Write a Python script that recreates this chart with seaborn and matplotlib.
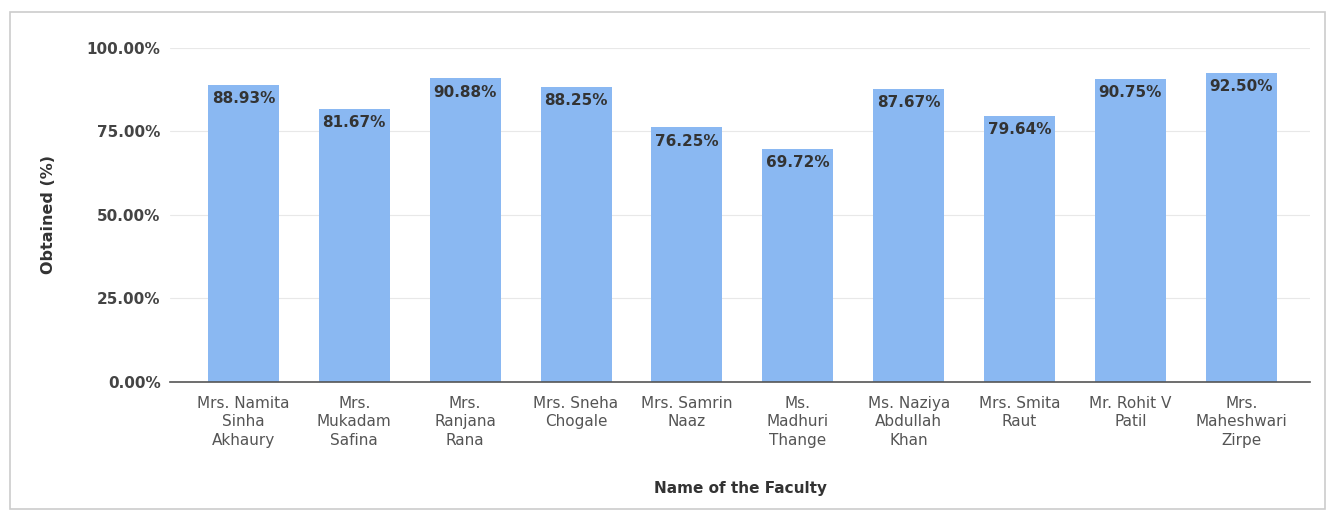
import matplotlib
matplotlib.use("Agg")
import matplotlib.pyplot as plt
import seaborn as sns
import pandas as pd
from matplotlib.ticker import FuncFormatter
from matplotlib.patches import Rectangle

faculty = ["Mrs. Namita\nSinha\nAkhaury", "Mrs.\nMukadam\nSafina", "Mrs.\nRanjana\nRana",
           "Mrs. Sneha\nChogale", "Mrs. Samrin\nNaaz", "Ms.\nMadhuri\nThange",
           "Ms. Naziya\nAbdullah\nKhan", "Mrs. Smita\nRaut", "Mr. Rohit V\nPatil",
           "Mrs.\nMaheshwari\nZirpe"]
obtained = [88.93, 81.67, 90.88, 88.25, 76.25, 69.72, 87.67, 79.64, 90.75, 92.50]
y_ticks = [0, 25, 50, 75, 100]

df = pd.DataFrame({"faculty": faculty, "obtained": obtained})

sns.set_theme(style="white")
plt.rcParams['font.family'] = ['DejaVu Sans']

fig = plt.figure(figsize=(13.3, 5.14), dpi=100)
ax = fig.add_axes([0.128, 0.257, 0.857, 0.65])

sns.barplot(data=df, x="faculty", y="obtained", color="#8ab8f2", saturation=1,
            width=0.64, linewidth=0, ax=ax)

# value labels inside top of bars
for i, v in enumerate(obtained):
    ax.annotate("{:.2f}%".format(v), (i, v), xytext=(0, -10), textcoords="offset points",
                ha="center", va="center", fontsize=11, fontweight="bold", color="#333333")

ax.set_ylim(0, 100)
ax.set_xlim(-0.66, 9.62)
ax.set_yticks(y_ticks)
ax.yaxis.set_major_formatter(FuncFormatter(lambda v, p: "{:.2f}%".format(v)))
ax.grid(axis="y", color="#e8e8e8", linewidth=0.8)
ax.set_axisbelow(True)
for s in ["top", "right", "left"]:
    ax.spines[s].set_visible(False)
ax.spines["bottom"].set_color("#555555")
ax.spines["bottom"].set_linewidth(1.2)
ax.tick_params(axis="y", length=0, pad=7, labelsize=11, labelcolor="#444444")
ax.tick_params(axis="x", length=0, pad=10, labelsize=11, labelcolor="#555555")
for t in ax.get_yticklabels():
    t.set_fontweight("bold")
for t in ax.get_xticklabels():
    t.set_linespacing(1.3)

ax.set_ylabel("Obtained (%)", fontsize=11.5, fontweight="bold", color="#333333", labelpad=22)
ax.set_xlabel("Name of the Faculty", fontsize=11, fontweight="bold", color="#333333", labelpad=24)

# light border around whole chart
fig.patches.append(Rectangle((10 / 1330, 5 / 514), 1315 / 1330, 497 / 514,
                             transform=fig.transFigure, fill=False,
                             edgecolor="#cccccc", linewidth=1.2))

fig.savefig("out.png", dpi=100)
